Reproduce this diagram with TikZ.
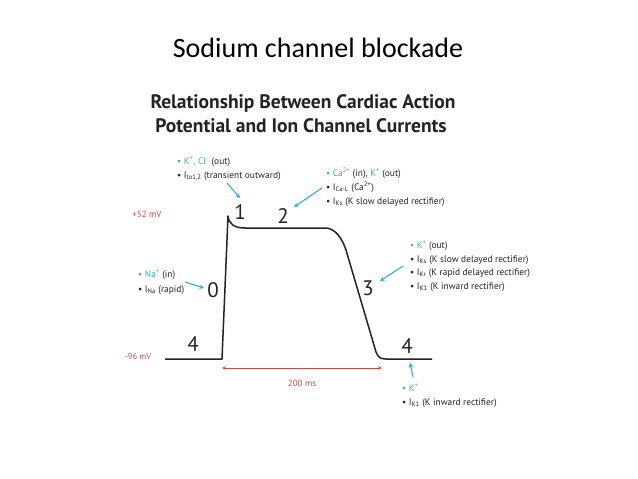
\documentclass[tikz,border=0pt]{standalone}
\usepackage{fontspec}
\setmainfont{PT Sans}
\newfontfamily\ttlfont{Carlito}
\usetikzlibrary{arrows.meta}
\definecolor{cy}{RGB}{58,168,204}
\definecolor{rd}{RGB}{200,72,72}
\definecolor{tx}{RGB}{35,35,35}
\newcommand{\cbul}{\textcolor{cy}{\textbullet}}
\newcommand{\kbul}{\textcolor{tx}{\textbullet}}
\newcommand{\cyt}[1]{\textcolor{cy}{#1}}
\tikzset{
  lbl/.style={anchor=base west, font=\fontsize{9.4}{11}\selectfont, text=tx, inner sep=0pt},
  num/.style={anchor=base, font=\fontsize{21}{24}\selectfont, text=tx, inner sep=0pt},
  mv/.style={font=\fontsize{8.5}{10}\selectfont, text=rd, inner sep=0pt},
  carrow/.style={draw=cy, line width=1.1pt, -{Stealth[length=4.5pt,width=4.5pt]}},
  ap/.style={draw=tx, line width=1.5pt, line join=round},
}
\begin{document}
\begin{tikzpicture}[x=1pt,y=-1pt]
\useasboundingbox[fill=white] (0,0) rectangle (638,479);

% titles
\node[anchor=base, inner sep=0pt, font=\ttlfont\fontsize{28}{31}\selectfont, text=black] (title) at (318,57) {Sodium channel blockade};
\node[anchor=base, inner sep=0pt, font=\bfseries\fontsize{19.5}{22}\selectfont, text=tx] (sub1) at (303,108) {Relationship Between Cardiac Action};
\node[anchor=base, inner sep=0pt, font=\bfseries\fontsize{19.5}{22}\selectfont, text=tx] (sub2) at (301,132) {Potential and Ion Channel Currents};

% action potential curve
\draw[ap] (165,359) -- (222,359) -- (228,216)
  .. controls (229,224) and (234,228) .. (245,228) -- (325,228)
  .. controls (335,228) and (342,238) .. (346,250) -- (376,352)
  .. controls (378,357) and (380,359) .. (386,359) -- (432,359);

% voltage labels
\node[mv, font=\fontsize{9}{11}\selectfont] (p52) at (147,214) {+52 mV};
\node[mv] (m96) at (138,357) {-96 mV};

% duration
\coordinate (d1) at (222,368);
\coordinate (d2) at (382,368);
\draw[rd, line width=0.9pt, {Stealth[length=4pt,width=3.5pt]}-{Stealth[length=4pt,width=3.5pt]}] (d1) -- (d2);
\node[mv, font=\fontsize{9}{11}\selectfont] (dur) at (302,383) {200 ms};

% phase numbers
\node[num] (n0) at (213,297) {0};
\node[num] (n1) at (240,219) {1};
\node[num] (n2) at (283,223) {2};
\node[num] (n3) at (368,295) {3};
\node[num] (n4a) at (193,351) {4};
\node[num] (n4b) at (407,353) {4};

% label blocks
\node[lbl] (a1) at (177,164) {\cbul\ \cyt{K\textsuperscript{+}, Cl\textsuperscript{-}} (out)};
\node[lbl] (a2) at (177,178) {\kbul\ I\textsubscript{to1,2} (transient outward)};

\node[lbl] (b1) at (326,176) {\cbul\ \cyt{Ca\textsuperscript{2+}} (in), \cyt{K\textsuperscript{+}} (out)};
\node[lbl] (b2) at (326,190) {\kbul\ I\textsubscript{Ca-L} (Ca\textsuperscript{2+})};
\node[lbl] (b3) at (326,204) {\kbul\ I\textsubscript{Ks} (K slow delayed rectifier)};

\node[lbl] (c1) at (410,248) {\cbul\ \cyt{K\textsuperscript{+}} (out)};
\node[lbl] (c2) at (410,262) {\kbul\ I\textsubscript{Ks} (K slow delayed rectifier)};
\node[lbl] (c3) at (410,275) {\kbul\ I\textsubscript{Kr} (K rapid delayed rectifier)};
\node[lbl] (c4) at (410,289) {\kbul\ I\textsubscript{K1} (K inward rectifier)};

\node[lbl] (d1t) at (138,277) {\cbul\ \cyt{Na\textsuperscript{+}} (in)};
\node[lbl] (d2t) at (138,292) {\kbul\ I\textsubscript{Na} (rapid)};

\node[lbl] (e1) at (402,391) {\cbul\ \cyt{K\textsuperscript{+}}};
\node[lbl] (e2) at (402,405) {\kbul\ I\textsubscript{K1} (K inward rectifier)};

% cyan arrows
\coordinate (ar1s) at (227,183); \coordinate (ar1e) at (240,198);
\coordinate (ar2s) at (322,188); \coordinate (ar2e) at (294,207);
\coordinate (ar3s) at (403,266); \coordinate (ar3e) at (380,281);
\coordinate (ar0s) at (185,282); \coordinate (ar0e) at (204,288);
\coordinate (ar4s) at (413,377); \coordinate (ar4e) at (410,363);
\draw[carrow] (ar1s) -- (ar1e);
\draw[carrow] (ar2s) -- (ar2e);
\draw[carrow] (ar3s) -- (ar3e);
\draw[carrow] (ar0s) -- (ar0e);
\draw[carrow] (ar4s) -- (ar4e);
\end{tikzpicture}
\end{document}
